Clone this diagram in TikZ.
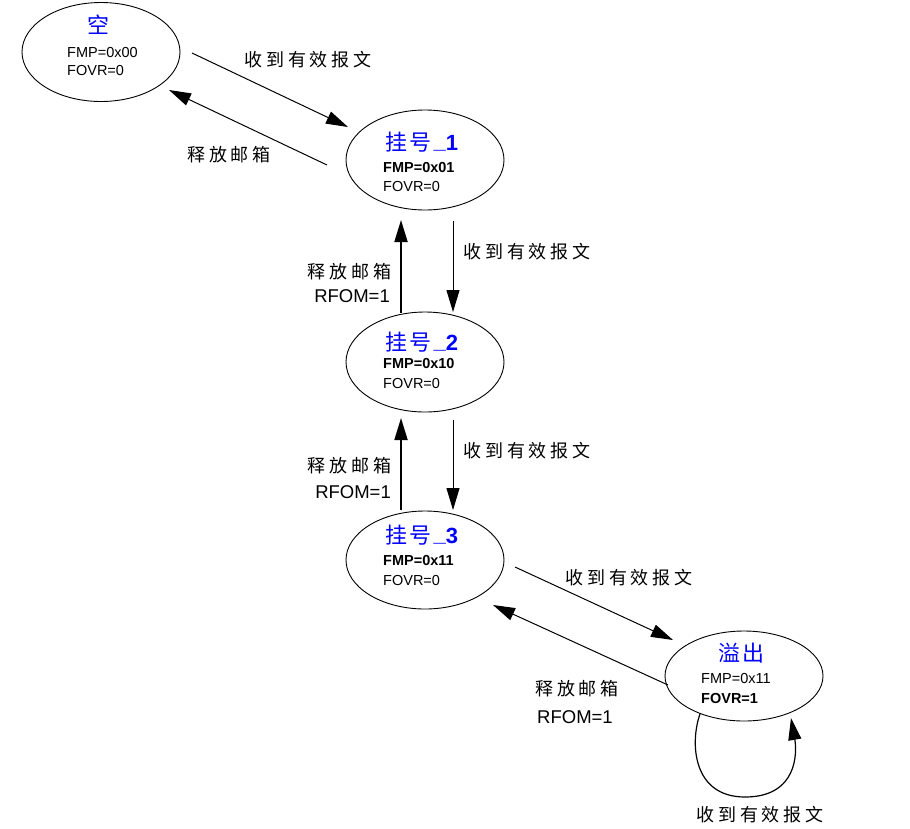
\documentclass[tikz,border=0pt]{standalone}
\usepackage{fontspec}
\setmainfont{Liberation Sans}
\newfontfamily\cjk{Noto Sans CJK SC}
\newfontfamily\cjkl{Noto Sans CJK SC}[LetterSpace=22]
\newfontfamily\cjkt{Noto Sans CJK SC}[LetterSpace=10]
\usetikzlibrary{arrows.meta,shapes.geometric,calc}
\begin{document}
\begin{tikzpicture}[x=1pt,y=-1pt,
  state/.style={draw, ellipse, line width=0.9pt, minimum width=158pt, minimum height=98pt, inner sep=0pt},
  ttl/.style={anchor=base west, inner sep=0pt, text=blue, font=\fontsize{22}{22}\selectfont},
  val/.style={anchor=base west, inner sep=0pt, font=\fontsize{14.5}{15}\selectfont},
  lab/.style={anchor=base, inner sep=0pt, font=\fontsize{18}{18}\selectfont\cjkl},
  rf/.style={anchor=base east, inner sep=0pt, font=\fontsize{18.5}{18}\selectfont},
  arr/.style={-{Triangle[length=22pt,width=13pt]}, line width=1pt},
  uparr/.style={arr, line width=1.8pt}]
\useasboundingbox (0,0) rectangle (910,828);
\fill[white] (0,0) rectangle (910,828);

% states
\node[state, minimum height=99pt] (e0) at (101,52) {};
\node[state, minimum height=100pt] (e1) at (425,160) {};
\node[state, minimum height=100pt] (e2) at (425,362) {};
\node[state] (e3) at (425,560) {};
\node[state, minimum height=90pt] (e4) at (744,676) {};

% state texts
\node[ttl, anchor=base] (t0) at (98,33) {\cjk 空};
\node[val] (f0) at (67,57) {FMP=0x00};
\node[val] (o0) at (67,75) {FOVR=0};

\node[ttl] (t1) at (385,150) {{\cjkt 挂号}\textbf{\raisebox{2pt}{\_}1}};
\node[val] (f1) at (383,172) {\textbf{FMP=0x01}};
\node[val] (o1) at (383,191) {FOVR=0};

\node[ttl] (t2) at (385,350) {{\cjkt 挂号}\textbf{\raisebox{2pt}{\_}2}};
\node[val] (f2) at (383,368) {\textbf{FMP=0x10}};
\node[val] (o2) at (383,388) {FOVR=0};

\node[ttl] (t3) at (385,543) {{\cjkt 挂号}\textbf{\raisebox{2pt}{\_}3}};
\node[val] (f3) at (383,565) {\textbf{FMP=0x11}};
\node[val] (o3) at (383,585) {FOVR=0};

\node[ttl] (t4) at (718,661) {\cjkt 溢出};
\node[val] (f4) at (701,683) {FMP=0x11};
\node[val] (o4) at (701,703) {\textbf{FOVR=1}};

% connectors
\draw[arr] ($(e0)+(91,1)$) -- ($(e1)+(-77,-33)$);
\draw[arr] ($(e1)+(-98,5)$) -- ($(e0)+(68,38)$);
\draw[uparr] ($(e2)+(-24,-49)$) -- ($(e1)+(-24,60)$);
\draw[arr] ($(e1)+(28,61)$) -- ($(e2)+(28,-50)$);
\draw[uparr] ($(e3)+(-24,-50)$) -- ($(e2)+(-24,56)$);
\draw[arr] ($(e2)+(28,58)$) -- ($(e3)+(28,-50)$);
\draw[arr] ($(e3)+(90,7)$) -- ($(e4)+(-71,-36)$);
\draw[arr] ($(e4)+(-76,9)$) -- ($(e3)+(68,45)$);
\draw[arr, line width=1.2pt] ($(e4)+(-44,38)$)
  .. controls ($(e4)+(-54,66)$) and ($(e4)+(-52,121)$) .. ($(e4)+(1,121)$)
  .. controls ($(e4)+(54,121)$) and ($(e4)+(53,76)$) .. ($(e4)+(47,42)$);

% labels
\node[lab] (l1) at (308,66) {收到有效报文};
\node[lab] (l2) at (229,161) {释放邮箱};
\node[lab] (l3) at (527,258) {收到有效报文};
\node[lab, anchor=base east] (l4) at (392,278) {释放邮箱};
\node[rf] (r4) at (390,302) {RFOM=1};
\node[lab] (l5) at (527,457) {收到有效报文};
\node[lab, anchor=base east] (l6) at (392,472) {释放邮箱};
\node[rf] (r6) at (391,498) {RFOM=1};
\node[lab] (l7) at (629,584) {收到有效报文};
\node[lab] (l8) at (577,695) {释放邮箱};
\node[rf, anchor=base] (r8) at (575,723) {RFOM=1};
\node[lab] (l9) at (760,821) {收到有效报文};
\end{tikzpicture}
\end{document}
